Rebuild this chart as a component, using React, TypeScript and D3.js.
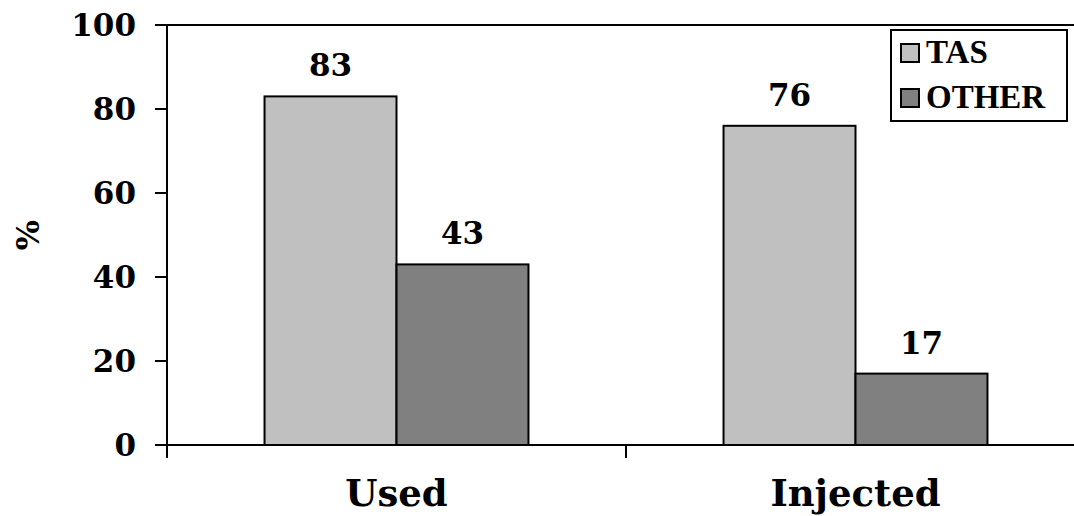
import React from "react";
import * as d3 from "d3";

const categories = ["Used", "Injected"];
const seriesNames = ["TAS", "OTHER"];
const tasValues = [83, 76];
const otherValues = [43, 17];
const yTicks = [0, 20, 40, 60, 80, 100];
const seriesColors = ["#C0C0C0", "#808080"];

const W = 1074;
const H = 516;
const left = 167;
const right = 1085;
const top = 25;
const bottom = 445;

const numFont = "'DejaVu Serif', serif";
const legFont = "'Liberation Serif', 'Times New Roman', serif";

export default function App() {
  const y = d3.scaleLinear().domain([0, 100]).range([bottom, top]);
  const x0 = d3.scaleBand().domain(categories).range([left, right]).padding(0);
  const x1 = d3
    .scaleBand()
    .domain(seriesNames)
    .range([0, x0.bandwidth()])
    .paddingInner(0)
    .paddingOuter(0.739);
  const valuesBySeries = [tasValues, otherValues];

  return (
    <svg
      width={W}
      height={H}
      style={{ position: "absolute", left: 0, top: 0, background: "#fff" }}
    >
      <rect x={0} y={0} width={W} height={H} fill="#fff" />
      {/* bars */}
      {categories.map((c, ci) =>
        seriesNames.map((s, si) => {
          const v = valuesBySeries[si][ci];
          const bx = (x0(c) as number) + (x1(s) as number);
          return (
            <g key={c + s}>
              <rect
                x={bx}
                y={y(v)}
                width={x1.bandwidth()}
                height={y(0) - y(v)}
                fill={seriesColors[si]}
                stroke="#000"
                strokeWidth={2}
              />
              <text
                x={bx + x1.bandwidth() / 2}
                y={y(v) - 20}
                textAnchor="middle"
                fontFamily={numFont}
                fontWeight="bold"
                fontSize={31}
              >
                {v}
              </text>
            </g>
          );
        })
      )}
      {/* top frame line */}
      <line x1={left} x2={W} y1={y(100)} y2={y(100)} stroke="#000" strokeWidth={2} />
      {/* y axis */}
      <line x1={left} x2={left} y1={top - 1} y2={bottom + 13} stroke="#000" strokeWidth={2} />
      {yTicks.map((t) => (
        <g key={t}>
          <line x1={155} x2={left} y1={y(t)} y2={y(t)} stroke="#000" strokeWidth={2} />
          <text
            x={136}
            y={y(t) + 11}
            textAnchor="end"
            fontFamily={numFont}
            fontWeight="bold"
            fontSize={31}
          >
            {t}
          </text>
        </g>
      ))}
      {/* x axis */}
      <line x1={left} x2={W} y1={bottom} y2={bottom} stroke="#000" strokeWidth={2} />
      {categories.map((c) => (
        <g key={c}>
          <line
            x1={(x0(c) as number) + x0.bandwidth()}
            x2={(x0(c) as number) + x0.bandwidth()}
            y1={bottom}
            y2={bottom + 13}
            stroke="#000"
            strokeWidth={2}
          />
          <text
            x={(x0(c) as number) + x0.bandwidth() / 2}
            y={506}
            textAnchor="middle"
            fontFamily={numFont}
            fontWeight="bold"
            fontSize={37}
          >
            {c}
          </text>
        </g>
      ))}
      {/* y label */}
      <text
        transform="translate(39,235) rotate(-90)"
        textAnchor="middle"
        fontFamily={numFont}
        fontWeight="bold"
        fontSize={32}
      >
        %
      </text>
      {/* legend */}
      <rect x={891} y={30} width={176} height={91} fill="#fff" stroke="#000" strokeWidth={2} />
      {seriesNames.map((s, i) => (
        <g key={s}>
          <rect
            x={901}
            y={44 + i * 45}
            width={18}
            height={18}
            fill={seriesColors[i]}
            stroke="#000"
            strokeWidth={2}
          />
          <text
            x={926}
            y={63 + i * 45}
            fontFamily={legFont}
            fontWeight="bold"
            fontSize={33}
          >
            {s}
          </text>
        </g>
      ))}
    </svg>
  );
}
